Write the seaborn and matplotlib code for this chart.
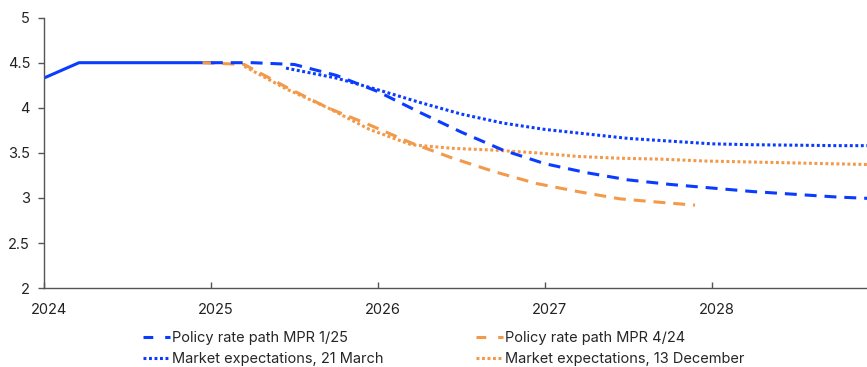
import matplotlib
matplotlib.use("Agg")
import matplotlib.pyplot as plt
import matplotlib.transforms as mtransforms
from matplotlib.lines import Line2D
import seaborn as sns

# Policy rate history (solid)
hist_x = [2024.0, 2024.21, 2025.0]
hist_y = [4.33, 4.50, 4.50]

# Policy rate path MPR 1/25
mpr125_x = [2025.0, 2025.25, 2025.5, 2025.75, 2026.0, 2026.25, 2026.5, 2026.75,
            2027.0, 2027.25, 2027.5, 2027.75, 2028.0, 2028.25, 2028.5, 2028.75, 2029.0]
mpr125_y = [4.50, 4.50, 4.48, 4.36, 4.18, 3.95, 3.73, 3.53,
            3.38, 3.28, 3.20, 3.15, 3.11, 3.07, 3.04, 3.01, 2.99]

# Policy rate path MPR 4/24
mpr424_x = [2024.95, 2025.2, 2025.45, 2025.7, 2025.95, 2026.2, 2026.45, 2026.7,
            2026.95, 2027.2, 2027.45, 2027.7, 2027.9]
mpr424_y = [4.50, 4.48, 4.23, 4.00, 3.81, 3.61, 3.44, 3.29,
            3.16, 3.07, 2.99, 2.95, 2.92]

# Market expectations, 21 March
mkt_mar_x = [2025.45, 2025.75, 2026.0, 2026.25, 2026.5, 2026.75, 2027.0, 2027.25,
             2027.5, 2027.75, 2028.0, 2028.25, 2028.5, 2028.75, 2029.0]
mkt_mar_y = [4.44, 4.33, 4.20, 4.06, 3.93, 3.83, 3.76, 3.71,
             3.66, 3.63, 3.60, 3.59, 3.585, 3.58, 3.58]

# Market expectations, 13 December
mkt_dec_x = [2025.2, 2025.45, 2025.7, 2025.95, 2026.2, 2026.45, 2026.7, 2026.95,
             2027.2, 2027.45, 2027.7, 2027.95, 2028.2, 2028.45, 2028.7, 2028.95]
mkt_dec_y = [4.46, 4.21, 4.00, 3.76, 3.59, 3.55, 3.53, 3.50,
             3.46, 3.44, 3.43, 3.41, 3.40, 3.39, 3.38, 3.37]

y_ticks = [2, 2.5, 3, 3.5, 4, 4.5, 5]
y_labels = ["2", "2.5", "3", "3.5", "4", "4.5", "5"]
x_ticks = [2024, 2025, 2026, 2027, 2028]
x_labels = ["2024", "2025", "2026", "2027", "2028"]

BLUE = "#0a3cff"
ORANGE = "#f2994a"

sns.set_theme(style="white")
plt.rcParams["font.family"] = ["Inter", "DejaVu Sans"]

fig = plt.figure(figsize=(8.67, 3.67), dpi=100)
ax = fig.add_axes([0.0507, 0.215, 0.9493, 0.737])

lw = 2.2
dash = (3.9, 2.6)
dot = (0.95, 0.85)

sns.lineplot(x=hist_x, y=hist_y, ax=ax, color=BLUE, lw=lw, solid_capstyle="butt")
sns.lineplot(x=mpr424_x, y=mpr424_y, ax=ax, color=ORANGE, lw=lw, dashes=dash)
sns.lineplot(x=mkt_dec_x, y=mkt_dec_y, ax=ax, color=ORANGE, lw=lw, dashes=dot)
sns.lineplot(x=mpr125_x, y=mpr125_y, ax=ax, color=BLUE, lw=lw, dashes=dash)
sns.lineplot(x=mkt_mar_x, y=mkt_mar_y, ax=ax, color=BLUE, lw=lw, dashes=dot)

ax.set_xlim(2024, 2028.93)
ax.set_ylim(2, 5)
ax.set_yticks(y_ticks)
ax.set_yticklabels(y_labels)
ax.set_xticks(x_ticks)
ax.set_xticklabels(x_labels)
ax.set_xlabel("")
ax.set_ylabel("")

for side in ["top", "right"]:
    ax.spines[side].set_visible(False)
for side in ["left", "bottom"]:
    ax.spines[side].set_color("#555555")
    ax.spines[side].set_linewidth(1.0)

ax.tick_params(axis="y", direction="out", length=4, width=1, color="#555555",
               labelsize=10.5, labelcolor="#222222", pad=6, left=True)
ax.tick_params(axis="x", direction="in", length=4, width=1, color="#555555",
               labelsize=10.5, labelcolor="#222222", pad=11, bottom=True)

# nudge year labels slightly to the right of their ticks
shift = mtransforms.ScaledTranslation(5 / 100, 0, fig.dpi_scale_trans)
for lab in ax.get_xticklabels():
    lab.set_transform(lab.get_transform() + shift)

handles = [
    Line2D([], [], color=BLUE, lw=lw, dashes=(3.2, 3.9)),
    Line2D([], [], color=BLUE, lw=lw, dashes=dot),
    Line2D([], [], color=ORANGE, lw=lw, dashes=(3.2, 3.9)),
    Line2D([], [], color=ORANGE, lw=lw, dashes=dot),
]
labels = [
    "Policy rate path MPR 1/25",
    "Market expectations, 21 March",
    "Policy rate path MPR 4/24",
    "Market expectations, 13 December",
]
fig.legend(handles, labels, ncol=2, frameon=False, fontsize=10.5,
           loc="upper left", bbox_to_anchor=(0.165, 0.099),
           handlelength=1.85, handletextpad=0.15, columnspacing=6.3,
           labelspacing=0.5, borderaxespad=0, borderpad=0)

fig.savefig("out.png", dpi=100)
